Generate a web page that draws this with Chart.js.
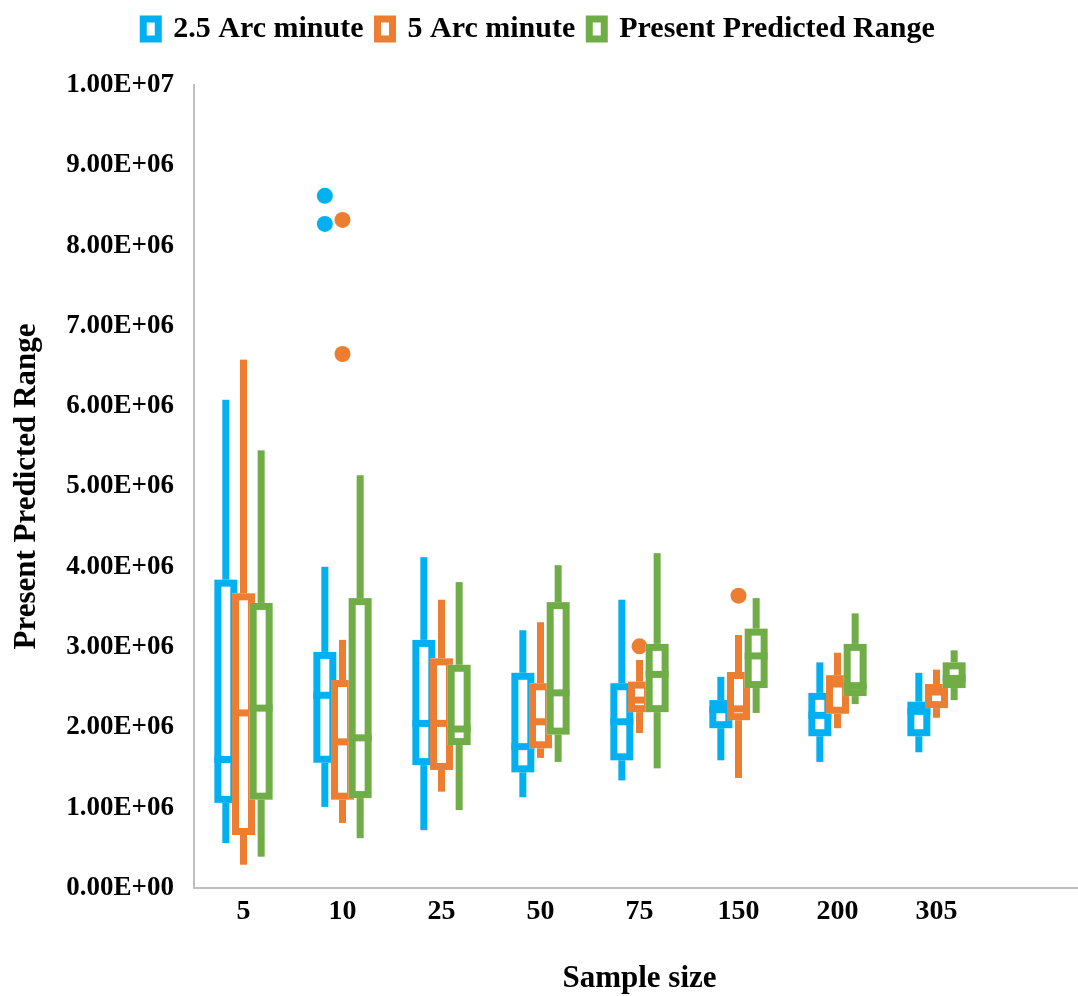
<!DOCTYPE html>
<html>
<head>
<meta charset="utf-8">
<script src="https://cdn.jsdelivr.net/npm/chart.js@4.4.1/dist/chart.umd.min.js"></script>
<style>
  html, body { margin: 0; padding: 0; background: #fff; }
  #wrap { width: 1078px; height: 996px; }
</style>
</head>
<body>
<div id="wrap"><canvas id="boxChart" width="1078" height="996"></canvas></div>
<script>
// categories (last one left empty, the axis runs on past 305)
const sampleSizes = ["5", "10", "25", "50", "75", "150", "200", "305", ""];

// each entry: [lower whisker, Q1, median, Q3, upper whisker]
const arc25Boxes = [
  [0.56e6, 1.06e6, 1.60e6, 3.84e6, 6.08e6],
  [1.01e6, 1.56e6, 2.40e6, 2.94e6, 4.00e6],
  [0.72e6, 1.53e6, 2.05e6, 3.09e6, 4.12e6],
  [1.13e6, 1.44e6, 1.76e6, 2.68e6, 3.21e6],
  [1.34e6, 1.59e6, 2.07e6, 2.55e6, 3.59e6],
  [1.59e6, 1.99e6, 2.22e6, 2.34e6, 2.63e6],
  [1.57e6, 1.89e6, 2.15e6, 2.43e6, 2.81e6],
  [1.69e6, 1.89e6, 2.20e6, 2.32e6, 2.68e6]
];
const arc5Boxes = [
  [0.29e6, 0.66e6, 2.18e6, 3.67e6, 6.58e6],
  [0.81e6, 1.10e6, 1.82e6, 2.59e6, 3.09e6],
  [1.20e6, 1.47e6, 2.05e6, 2.86e6, 3.59e6],
  [1.62e6, 1.74e6, 2.07e6, 2.55e6, 3.31e6],
  [1.93e6, 2.19e6, 2.34e6, 2.57e6, 2.84e6],
  [1.37e6, 2.09e6, 2.23e6, 2.69e6, 3.15e6],
  [1.99e6, 2.17e6, 2.54e6, 2.65e6, 2.93e6],
  [2.12e6, 2.24e6, 2.44e6, 2.54e6, 2.72e6]
];
const presentBoxes = [
  [0.39e6, 1.10e6, 2.24e6, 3.55e6, 5.45e6],
  [0.62e6, 1.12e6, 1.87e6, 3.61e6, 5.14e6],
  [0.97e6, 1.78e6, 1.98e6, 2.78e6, 3.81e6],
  [1.57e6, 1.91e6, 2.43e6, 3.56e6, 4.02e6],
  [1.49e6, 2.19e6, 2.66e6, 3.04e6, 4.17e6],
  [2.18e6, 2.49e6, 2.89e6, 3.23e6, 3.61e6],
  [2.29e6, 2.39e6, 2.52e6, 3.04e6, 3.42e6],
  [2.34e6, 2.49e6, 2.61e6, 2.81e6, 2.96e6]
];

// outlier dots per category
const arc25Outliers = [[], [8.62e6, 8.27e6], [], [], [], [], [], []];
const arc5Outliers = [[], [8.32e6, 6.65e6], [], [], [3.01e6], [3.64e6], [], []];
const presentOutliers = [[], [], [], [], [], [], [], []];

const yMin = 0;
const yMax = 1e7;
const yStep = 1e6;

const serif = "'Liberation Serif', 'Times New Roman', serif";

// 1000000 -> 1.00E+06
function sciLabel(v) {
  const parts = Number(v).toExponential(2).toUpperCase().split("E");
  const exp = parseInt(parts[1], 10);
  return parts[0] + "E" + (exp < 0 ? "-" : "+") + String(Math.abs(exp)).padStart(2, "0");
}

function makeSeries(label, color, boxes, outliers) {
  return {
    label: label,
    data: boxes.map(b => [b[1], b[3]]),
    boxes: boxes,
    outliers: outliers,
    boxColor: color,
    backgroundColor: "rgba(0,0,0,0)",
    borderWidth: 0,
    barPercentage: 1.3,
    categoryPercentage: 0.535
  };
}

// draws whiskers, boxes, medians and outliers on top of the (invisible) floating bars
const boxPlotPlugin = {
  id: "boxPlot",
  afterDatasetsDraw(chart) {
    const ctx = chart.ctx;
    const yScale = chart.scales.y;
    const lw = 7;
    const whisker = 7;
    ctx.save();
    chart.data.datasets.forEach((ds, i) => {
      const meta = chart.getDatasetMeta(i);
      if (meta.hidden) return;
      meta.data.forEach((bar, j) => {
        const b = ds.boxes[j];
        if (!b) return;
        const x = bar.x;
        const w = bar.width;
        const pLo = yScale.getPixelForValue(b[0]);
        const pQ1 = yScale.getPixelForValue(b[1]);
        const pMed = yScale.getPixelForValue(b[2]);
        const pQ3 = yScale.getPixelForValue(b[3]);
        const pHi = yScale.getPixelForValue(b[4]);

        ctx.fillStyle = ds.boxColor;
        ctx.fillRect(x - whisker / 2, pHi, whisker, pLo - pHi);

        ctx.fillStyle = "#ffffff";
        ctx.fillRect(x - w / 2, pQ3, w, pQ1 - pQ3);
        ctx.strokeStyle = ds.boxColor;
        ctx.lineWidth = lw;
        ctx.strokeRect(x - w / 2 + lw / 2, pQ3 + lw / 2, w - lw, pQ1 - pQ3 - lw);

        ctx.fillStyle = ds.boxColor;
        ctx.fillRect(x - w / 2, pMed - lw / 2, w, lw);

        (ds.outliers[j] || []).forEach(v => {
          ctx.beginPath();
          ctx.arc(x, yScale.getPixelForValue(v), 8, 0, Math.PI * 2);
          ctx.fill();
        });
      });
    });
    ctx.restore();
  }
};

// extra room under the legend so the plot starts lower
const legendSpacer = {
  id: "legendSpacer",
  beforeInit(chart) {
    const fit = chart.legend.fit;
    chart.legend.fit = function () {
      fit.call(this);
      this.height = 85;
    };
  }
};

// the category axis runs a little past the canvas edge in the original
const widenX = {
  id: "widenX",
  afterLayout(chart) {
    const x = chart.scales.x;
    x.right += 7;
    x.width += 7;
    x.configure();
  }
};

const ctx = document.getElementById("boxChart").getContext("2d");

new Chart(ctx, {
  type: "bar",
  data: {
    labels: sampleSizes,
    datasets: [
      makeSeries("2.5 Arc minute", "#00b0f0", arc25Boxes, arc25Outliers),
      makeSeries("5 Arc minute", "#ed7d31", arc5Boxes, arc5Outliers),
      makeSeries("Present Predicted Range", "#70ad47", presentBoxes, presentOutliers)
    ]
  },
  options: {
    responsive: false,
    animation: false,
    devicePixelRatio: 1,
    layout: { padding: { left: 0, right: 0, top: 0, bottom: 0 } },
    plugins: {
      tooltip: { enabled: false },
      legend: {
        position: "top",
        align: "center",
        labels: {
          boxWidth: 15,
          boxHeight: 20,
          padding: 14,
          color: "#000",
          font: { family: serif, size: 30, weight: "bold" },
          generateLabels(chart) {
            return chart.data.datasets.map((ds, i) => ({
              text: ds.label,
              fillStyle: "#ffffff",
              strokeStyle: ds.boxColor,
              lineWidth: 7,
              hidden: false,
              fontColor: "#000",
              datasetIndex: i
            }));
          }
        }
      }
    },
    scales: {
      x: {
        grid: { display: false, drawTicks: false },
        border: { display: true, color: "#bfbfbf", width: 2 },
        ticks: {
          color: "#000",
          padding: 7,
          font: { family: serif, size: 28, weight: "bold" }
        },
        title: {
          display: true,
          text: "Sample size",
          color: "#000",
          padding: { top: 0, bottom: -2 },
          font: { family: serif, size: 31, weight: "bold" }
        },
        afterFit(scale) { scale.height = 108; }
      },
      y: {
        min: yMin,
        max: yMax,
        grid: { display: false, drawTicks: false },
        border: { display: true, color: "#bfbfbf", width: 2 },
        ticks: {
          stepSize: yStep,
          autoSkip: false,
          color: "#000",
          padding: 20,
          font: { family: serif, size: 27, weight: "bold" },
          callback: v => sciLabel(v)
        },
        title: {
          display: true,
          text: "Present Predicted Range",
          color: "#000",
          padding: { top: 8, bottom: 0 },
          font: { family: serif, size: 31, weight: "bold" }
        },
        afterFit(scale) { scale.width = 194; }
      }
    }
  },
  plugins: [boxPlotPlugin, legendSpacer, widenX]
});
</script>
</body>
</html>
